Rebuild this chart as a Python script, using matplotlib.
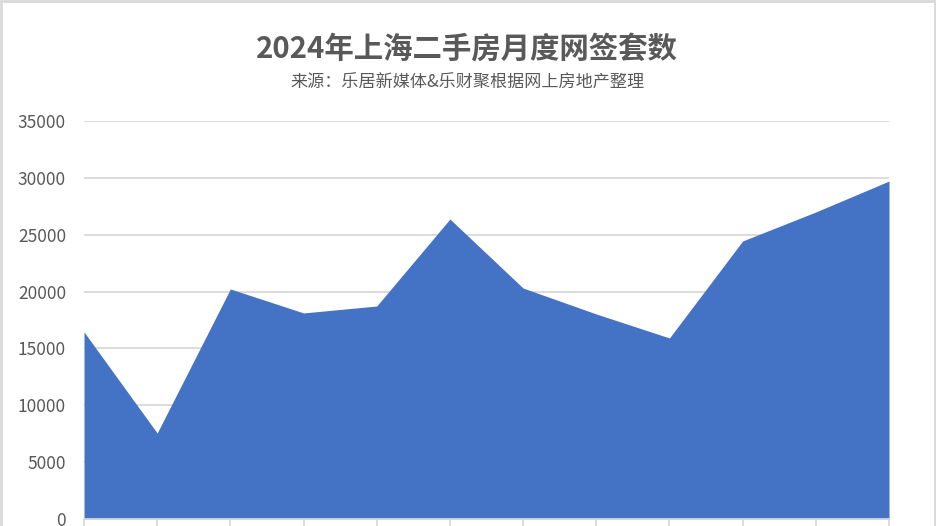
import matplotlib
matplotlib.use("Agg")
import matplotlib.pyplot as plt
from matplotlib.patches import Rectangle

plt.rcParams['font.family'] = ['Noto Sans CJK SC', 'DejaVu Sans']

months = ["1月", "2月", "3月", "4月", "5月", "6月", "7月", "8月", "9月", "10月", "11月", "12月"]
signed = [16450, 7560, 20230, 18120, 18730, 26380, 20310, 18030, 15920, 24450, 27000, 29720]
y_ticks = [0, 5000, 10000, 15000, 20000, 25000, 30000, 35000]

title = "2024年上海二手房月度网签套数"
subtitle = "来源：乐居新媒体&乐财聚根据网上房地产整理"

W, H = 936, 526
fig = plt.figure(figsize=(W / 100, H / 100), dpi=100)
fig.patch.set_facecolor("white")

left, right, top_px, bottom_px = 84, 889, 121, 519
ax = fig.add_axes([left / W, (H - bottom_px) / H, (right - left) / W, (bottom_px - top_px) / H])

x = list(range(len(months)))
ax.fill_between(x, signed, 0, color="#4472C4", linewidth=0, zorder=2)
ax.set_xlim(0, len(months) - 1)
ax.set_ylim(0, 35000)
ax.set_yticks(y_ticks)
ax.set_yticklabels([str(v) for v in y_ticks])
ax.set_xticks(x)
ax.set_xticklabels(months)

ax.grid(axis="y", color="#d9d9d9", linewidth=1.3, zorder=0)
ax.set_axisbelow(True)
for s in ["top", "right", "left"]:
    ax.spines[s].set_visible(False)
ax.spines["bottom"].set_color("#d9d9d9")
ax.spines["bottom"].set_linewidth(1.3)
ax.spines["bottom"].set_zorder(3)
ax.tick_params(axis="y", length=0, pad=13, labelsize=12.5, labelcolor="#595959")
# month labels fall below the visible canvas in the reference
ax.tick_params(axis="x", length=7, width=1.3, color="#d9d9d9", labelbottom=False, direction="out")

fig.text(467 / W, 1 - 49 / H, title, ha="center", va="center", fontsize=21.2, fontweight="bold", color="#595959")
fig.text(467 / W, 1 - 83 / H, subtitle, ha="center", va="center", fontsize=12.3, color="#595959")

# outer frame
fig.patches.append(Rectangle((0.5 / W, -0.02), (W - 2) / W, 1.02 - 1.0 / H, transform=fig.transFigure,
                             fill=False, edgecolor="#d9d9d9", linewidth=2, zorder=10))

fig.savefig("out.png", dpi=100)
